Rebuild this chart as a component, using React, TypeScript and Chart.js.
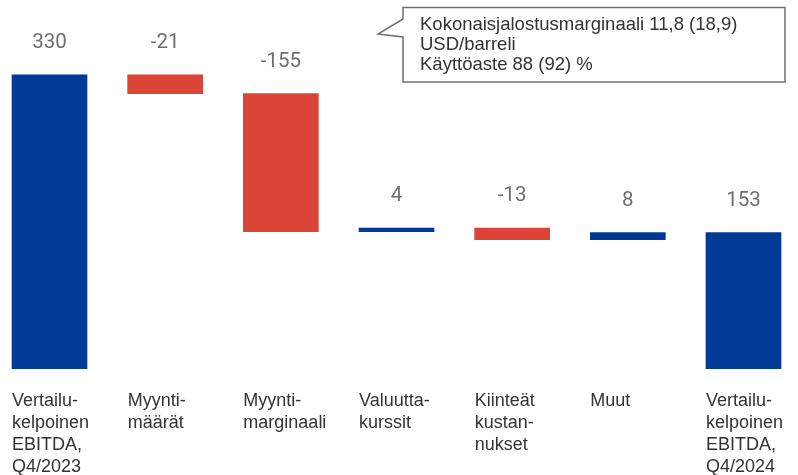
import React, { useEffect, useRef } from "react";
import { Chart, registerables } from "chart.js";

Chart.register(...registerables);

// ---- data ----
const categories: string[][] = [
  ["Vertailu-", "kelpoinen", "EBITDA,", "Q4/2023"],
  ["Myynti-", "määrät"],
  ["Myynti-", "marginaali"],
  ["Valuutta-", "kurssit"],
  ["Kiinteät", "kustan-", "nukset"],
  ["Muut"],
  ["Vertailu-", "kelpoinen", "EBITDA,", "Q4/2024"],
];
const values: number[] = [330, -21, -155, 4, -13, 8, 153];
const isTotal: boolean[] = [true, false, false, false, false, false, true];
const valueLabels: string[] = ["330", "-21", "-155", "4", "-13", "8", "153"];
const calloutLines: string[] = [
  "Kokonaisjalostusmarginaali 11,8 (18,9)",
  "USD/barreli",
  "Käyttöaste 88 (92) %",
];

const BLUE = "#003A96";
const RED = "#DB4538";

// canvas is shifted left by this many px relative to the page
const SHIFT = 10;

function buildRanges(): [number, number][] {
  let run = 0;
  return values.map((v, i) => {
    if (isTotal[i]) {
      run = v;
      return [0, v] as [number, number];
    }
    const s = run;
    run += v;
    return [Math.min(s, run), Math.max(s, run)] as [number, number];
  });
}

const valueLabelPlugin = {
  id: "valueLabels",
  afterDatasetsDraw(chart: any) {
    const ctx = chart.ctx;
    const meta = chart.getDatasetMeta(0);
    ctx.save();
    ctx.font = "20.5px Roboto";
    ctx.fillStyle = "#6e6e6e";
    ctx.textAlign = "center";
    ctx.textBaseline = "alphabetic";
    meta.data.forEach((el: any, i: number) => {
      const top = Math.min(el.y, el.base);
      ctx.fillText(valueLabels[i], el.x, top - 26.7);
    });
    ctx.restore();
  },
};

const calloutPlugin = {
  id: "callout",
  afterDraw(chart: any) {
    const ctx = chart.ctx;
    const ox = SHIFT;
    const L = 403 + ox, R = 785 + ox, T = 7.5, B = 82;
    ctx.save();
    ctx.beginPath();
    ctx.moveTo(L, T);
    ctx.lineTo(R, T);
    ctx.lineTo(R, B);
    ctx.lineTo(L, B);
    ctx.lineTo(L, 37);
    ctx.lineTo(378 + ox, 34);
    ctx.lineTo(L, 19);
    ctx.closePath();
    ctx.fillStyle = "#ffffff";
    ctx.fill();
    ctx.lineWidth = 1.5;
    ctx.strokeStyle = "#707070";
    ctx.stroke();
    ctx.font = "18.5px 'Liberation Sans', Arial, sans-serif";
    ctx.fillStyle = "#333333";
    ctx.textAlign = "left";
    ctx.textBaseline = "alphabetic";
    calloutLines.forEach((t, i) => {
      ctx.fillText(t, 420 + ox, 30 + i * 20);
    });
    ctx.restore();
  },
};

export default function App() {
  const ref = useRef<HTMLCanvasElement | null>(null);

  useEffect(() => {
    if (!ref.current) return;
    const ranges = buildRanges();
    const colors = values.map((v, i) => (isTotal[i] || v >= 0 ? BLUE : RED));
    const chart = new Chart(ref.current, {
      type: "bar",
      data: {
        labels: categories,
        datasets: [
          {
            data: ranges as any,
            backgroundColor: colors,
            borderWidth: 0,
            barThickness: 75,
          },
        ],
      },
      options: {
        responsive: false,
        animation: false,
        layout: { padding: { left: 1.67, right: 0.67, top: 0, bottom: 0 } },
        plugins: {
          legend: { display: false },
          tooltip: { enabled: false },
        },
        scales: {
          x: {
            grid: { display: false },
            border: { display: false },
            afterFit: (scale: any) => {
              scale.height = 106;
              scale.paddingLeft = 0;
              scale.paddingRight = 0;
            },
            ticks: {
              autoSkip: false,
              maxRotation: 0,
              minRotation: 0,
              align: "start",
              labelOffset: -37.5,
              padding: 13,
              color: "#333333",
              font: { family: "'Liberation Sans', Arial, sans-serif", size: 18, lineHeight: 1.23 },
            },
          },
          y: {
            display: false,
            min: 0,
            max: 414,
          },
        },
      },
      plugins: [valueLabelPlugin, calloutPlugin],
    });
    return () => chart.destroy();
  }, []);

  return (
    <div
      style={{
        position: "fixed",
        left: 0,
        top: 0,
        width: 798,
        height: 475,
        overflow: "hidden",
        background: "#ffffff",
      }}
    >
      <canvas
        ref={ref}
        width={812}
        height={475}
        style={{ position: "absolute", left: -SHIFT, top: 0 }}
      />
    </div>
  );
}
